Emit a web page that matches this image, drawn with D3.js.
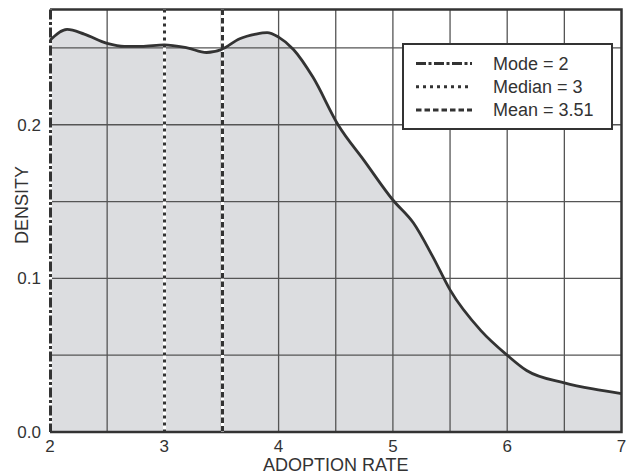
<!DOCTYPE html>
<html>
<head>
<meta charset="utf-8">
<script src="https://cdn.jsdelivr.net/npm/d3@7"></script>
<style>
  body { margin: 0; background: #fff; }
  text { font-family: "Liberation Sans", Arial, sans-serif; fill: #333; }
</style>
</head>
<body>
<div id="chart"></div>
<script>
const width = 629, height = 476;
const margin = { top: 10, right: 7, bottom: 44, left: 50 };

// Density curve
const rates = [2.0, 2.15, 2.3, 2.5, 2.65, 2.8, 3.0, 3.2, 3.37, 3.5, 3.66, 3.8, 3.9, 4.0, 4.13, 4.3, 4.52, 4.75, 5.0, 5.18, 5.35, 5.5, 5.77, 6.0, 6.17, 6.5, 6.75, 7.0];
const density = [0.255, 0.262, 0.259, 0.253, 0.251, 0.251, 0.252, 0.250, 0.247, 0.249, 0.256, 0.259, 0.260, 0.257, 0.249, 0.231, 0.200, 0.1765, 0.151, 0.136, 0.114, 0.0925, 0.066, 0.050, 0.040, 0.032, 0.028, 0.025];

const xTicks = [2, 3, 4, 5, 6, 7];
const xGrid = [2.5, 3, 3.5, 4, 4.5, 5, 5.5, 6, 6.5];
const yTicks = [0, 0.1, 0.2];
const yGrid = [0.05, 0.1, 0.15, 0.2, 0.25];

const stats = [
  { label: 'Mode = 2', value: 2, dash: '10,2.5,3,2.5' },
  { label: 'Median = 3', value: 3, dash: '3,4' },
  { label: 'Mean = 3.51', value: 3.51, dash: '5.5,3' }
];

const svg = d3.select('#chart')
  .append('svg')
  .attr('width', width)
  .attr('height', height);

const x = d3.scaleLinear().domain([2, 7]).range([margin.left, width - margin.right - 0.5]);
const y = d3.scaleLinear().domain([0, 0.275]).range([height - margin.bottom, 9.5]);

const pts = rates.map((r, i) => [r, density[i]]);

// filled area
svg.append('path')
  .datum(pts)
  .attr('fill', '#dcdde0')
  .attr('d', d3.area().x(d => x(d[0])).y0(y(0)).y1(d => y(d[1])).curve(d3.curveMonotoneX));

// grid
svg.append('g').selectAll('line')
  .data(xGrid).enter().append('line')
  .attr('x1', d => x(d)).attr('x2', d => x(d))
  .attr('y1', y.range()[1]).attr('y2', y(0))
  .attr('stroke', '#555').attr('stroke-width', 1.3);

svg.append('g').selectAll('line')
  .data(yGrid).enter().append('line')
  .attr('x1', x(2)).attr('x2', x(7))
  .attr('y1', d => y(d)).attr('y2', d => y(d))
  .attr('stroke', '#555').attr('stroke-width', 1.3);

// frame: top, right, bottom
svg.append('path')
  .attr('d', `M${x(2)},${y.range()[1]}H${x(7)}V${y(0)}H${x(2)}`)
  .attr('fill', 'none').attr('stroke', '#333').attr('stroke-width', 2.5);

// stat lines (white underlay so the gaps read white), snapped to pixels
const sx = d => Math.round(x(d.value) - 0.5) + 0.5;
const statG = svg.append('g').selectAll('g')
  .data(stats).enter().append('g');

statG.append('line')
  .attr('x1', sx).attr('x2', sx)
  .attr('y1', y.range()[1]).attr('y2', y(0))
  .attr('stroke', '#fff').attr('stroke-width', 3);

statG.append('line')
  .attr('x1', sx).attr('x2', sx)
  .attr('y1', y.range()[1]).attr('y2', y(0))
  .attr('stroke', '#333').attr('stroke-width', 3)
  .attr('stroke-dasharray', d => d.dash);

// curve
svg.append('path')
  .datum(pts)
  .attr('fill', 'none')
  .attr('stroke', '#333')
  .attr('stroke-width', 2.8)
  .attr('d', d3.line().x(d => x(d[0])).y(d => y(d[1])).curve(d3.curveMonotoneX));

// tick labels
svg.append('g').selectAll('text')
  .data(xTicks).enter().append('text')
  .attr('x', d => x(d)).attr('y', 452)
  .attr('text-anchor', 'middle')
  .style('font-size', '17px')
  .text(d => d);

svg.append('g').selectAll('text')
  .data(yTicks).enter().append('text')
  .attr('x', 41).attr('y', d => y(d))
  .attr('dy', '0.35em')
  .attr('text-anchor', 'end')
  .style('font-size', '17px')
  .text(d => d3.format('.1f')(d));

// axis titles
svg.append('text')
  .attr('x', (x(2) + x(7)) / 2).attr('y', 471)
  .attr('text-anchor', 'middle')
  .style('font-size', '18px')
  .text('ADOPTION RATE');

svg.append('text')
  .attr('transform', 'translate(28,205) rotate(-90)')
  .attr('text-anchor', 'middle')
  .style('font-size', '18px')
  .text('DENSITY');

// legend
const legend = svg.append('g');
legend.append('rect')
  .attr('x', 403).attr('y', 44).attr('width', 209).attr('height', 85)
  .attr('fill', '#fff').attr('stroke', '#333').attr('stroke-width', 2);

const rows = legend.selectAll('g.row')
  .data(stats).enter().append('g')
  .attr('class', 'row')
  .attr('transform', (d, i) => `translate(0,${63.5 + i * 23.3})`);

rows.append('line')
  .attr('x1', 416).attr('x2', 472)
  .attr('stroke', '#333').attr('stroke-width', 3)
  .attr('stroke-dasharray', d => d.dash);

rows.append('text')
  .attr('x', 493).attr('dy', '0.35em')
  .style('font-size', '18px')
  .text(d => d.label);
</script>
</body>
</html>
